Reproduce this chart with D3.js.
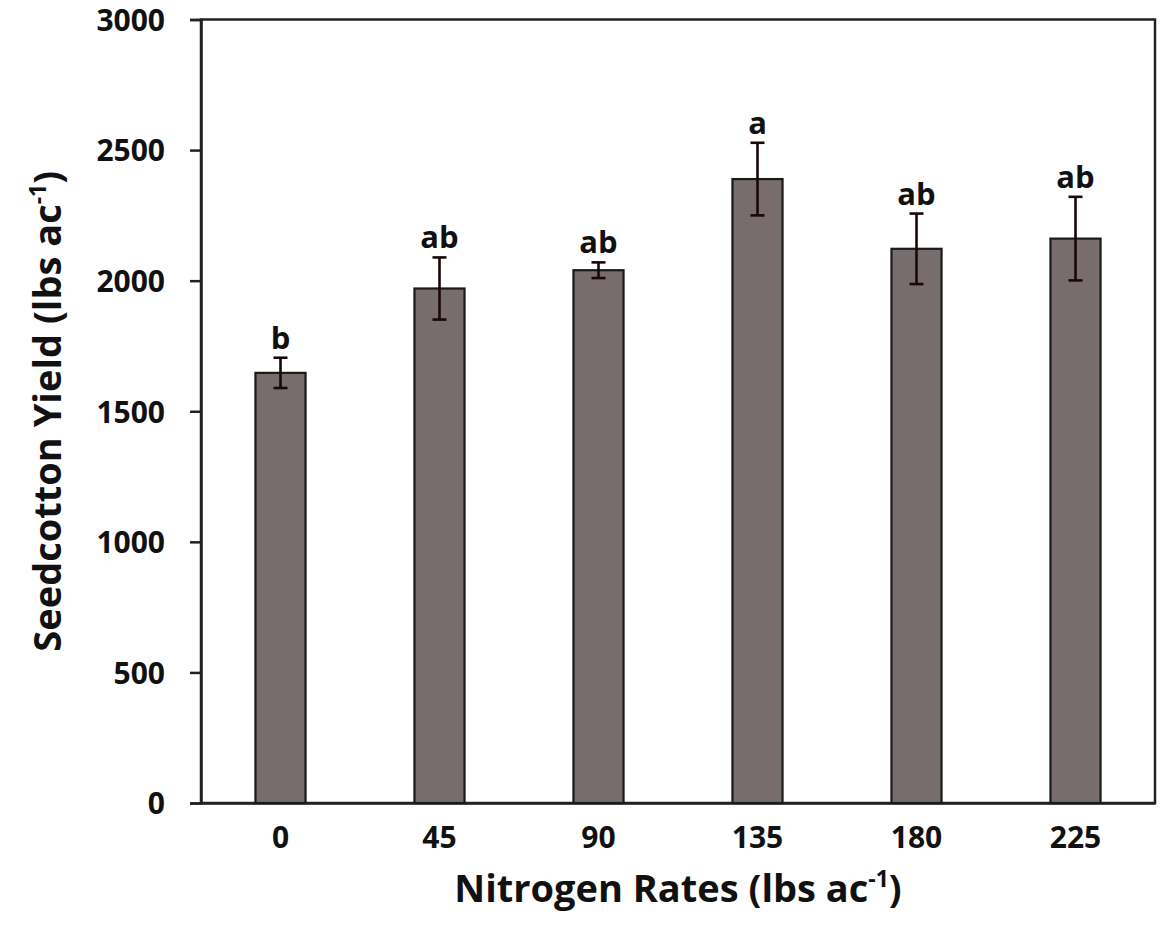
<!DOCTYPE html>
<html><head><meta charset="utf-8">
<script src="https://cdn.jsdelivr.net/npm/d3@7"></script>
<style>
body{margin:0;background:#fff;}
svg{display:block;}
text{font-family:"Open Sans",sans-serif;font-weight:700;fill:#111;}
</style></head><body>
<script>
const categories = ["0","45","90","135","180","225"];
const yieldValues = [1647, 1970, 2040, 2389, 2122, 2161];
const errorValues = [58, 119, 30, 139, 135, 160];
const letters = ["b","ab","ab","a","ab","ab"];
const yTicks = [0, 500, 1000, 1500, 2000, 2500, 3000];

const W = 1166, H = 933;
const m = {left: 201, right: 1155, top: 19.5, bottom: 803};
const svg = d3.select("body").append("svg").attr("width", W).attr("height", H);

const x = d3.scaleBand().domain(categories).range([m.left, m.right]).paddingInner(0.685).paddingOuter(0.3425);
const y = d3.scaleLinear().domain([0, 3000]).range([m.bottom, m.top]);

// frame
svg.append("rect").attr("x", m.left).attr("y", m.top).attr("width", m.right - m.left).attr("height", m.bottom - m.top)
  .attr("fill", "none").attr("stroke", "#222").attr("stroke-width", 2.5);

// y axis
const yAxis = svg.append("g").attr("transform", `translate(${m.left},0)`)
  .call(d3.axisLeft(y).tickValues(yTicks).tickSize(11).tickPadding(25).tickFormat(d3.format("d")));
yAxis.select(".domain").attr("stroke", "#222").attr("stroke-width", 2.5);
yAxis.selectAll(".tick line").attr("stroke", "#222").attr("stroke-width", 2.5);
yAxis.selectAll("text").style("font-size", "30px").style("font-family", "Open Sans").style("font-weight", 700).attr("fill", "#111").attr("dy", "0.36em");

// x axis
const xAxis = svg.append("g").attr("transform", `translate(0,${m.bottom})`)
  .call(d3.axisBottom(x).tickSize(0).tickPadding(24));
xAxis.select(".domain").attr("stroke", "#222").attr("stroke-width", 2.5);
xAxis.selectAll("text").style("font-size", "30px").style("font-family", "Open Sans").style("font-weight", 700).attr("fill", "#111");

// bars
svg.append("g").selectAll("rect").data(categories).join("rect")
  .attr("x", d => x(d)).attr("width", x.bandwidth())
  .attr("y", (d, i) => y(yieldValues[i])).attr("height", (d, i) => y(0) - y(yieldValues[i]))
  .attr("fill", "#766d6c").attr("stroke", "#1a1a1a").attr("stroke-width", 2.2);

// error bars
const eg = svg.append("g").attr("stroke", "#1a0808").attr("stroke-width", 2.6);
categories.forEach((c, i) => {
  const cx = x(c) + x.bandwidth() / 2;
  const hi = y(yieldValues[i] + errorValues[i]), lo = y(yieldValues[i] - errorValues[i]);
  eg.append("line").attr("x1", cx).attr("x2", cx).attr("y1", hi).attr("y2", lo);
  eg.append("line").attr("x1", cx - 7).attr("x2", cx + 7).attr("y1", hi).attr("y2", hi);
  eg.append("line").attr("x1", cx - 7).attr("x2", cx + 7).attr("y1", lo).attr("y2", lo);
});

// letters
svg.append("g").selectAll("text").data(categories).join("text")
  .attr("x", d => x(d) + x.bandwidth() / 2)
  .attr("y", (d, i) => y(yieldValues[i] + errorValues[i]) - 9)
  .attr("text-anchor", "middle").style("font-size", "31px")
  .text((d, i) => letters[i]);

// axis titles
const xt = svg.append("text").attr("x", (m.left + m.right) / 2).attr("y", 902)
  .attr("text-anchor", "middle").style("font-size", "38px");
xt.append("tspan").text("Nitrogen Rates (lbs ac");
xt.append("tspan").text("-1").style("font-size", "23px").attr("dy", -15);
xt.append("tspan").text(")").attr("dy", 15);

const yt = svg.append("text").attr("transform", `translate(61,${(m.top + m.bottom) / 2}) rotate(-90)`)
  .attr("text-anchor", "middle").style("font-size", "38px");
yt.append("tspan").text("Seedcotton Yield (lbs ac");
yt.append("tspan").text("-1").style("font-size", "23px").attr("dy", -15);
yt.append("tspan").text(")").attr("dy", 15);
</script>
</body></html>
